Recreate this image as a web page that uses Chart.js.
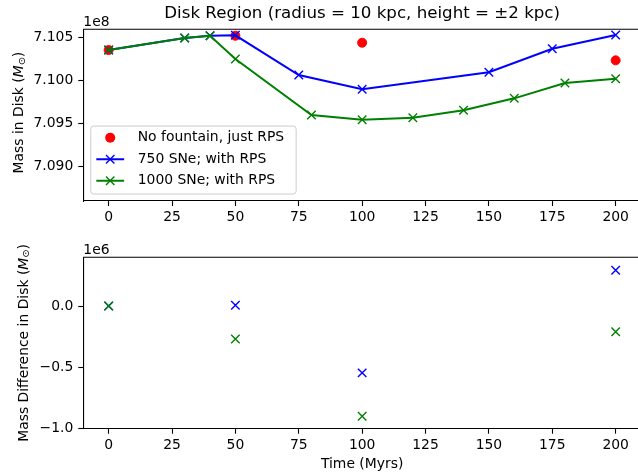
<!DOCTYPE html>
<html>
<head>
<meta charset="utf-8">
<script src="https://cdn.jsdelivr.net/npm/chart.js@4.4.0/dist/chart.umd.min.js"></script>
<style>
  html, body { margin: 0; padding: 0; background: #fff; width: 638px; height: 473px; overflow: hidden; }
  .box { position: absolute; left: 0; width: 642px; }
  #topBox { top: 0; height: 237px; }
  #bottomBox { top: 237px; height: 236px; }
  canvas { display: block; }
</style>
</head>
<body>
<div class="box" id="topBox"><canvas id="topChart" width="642" height="237" style="width:642px;height:237px"></canvas></div>
<div class="box" id="bottomBox"><canvas id="bottomChart" width="642" height="236" style="width:642px;height:236px"></canvas></div>
<script>
// --- Data (masses in units of 1e8, differences in units of 1e6) ---
const timeTicks = [0, 25, 50, 75, 100, 125, 150, 175, 200];
const massTicks = [7.090, 7.095, 7.100, 7.105];
const diffTicks = [-1.0, -0.5, 0.0];

const rpsTimes = [0, 50, 100, 200];
const rpsMass = [7.10357, 7.10523, 7.10442, 7.10237];

const sne750Times = [0, 30, 40, 50, 75, 100, 150, 175, 200];
const sne750Mass = [7.10357, 7.10496, 7.10523, 7.10528, 7.10066, 7.09900, 7.10098, 7.10372, 7.10531];

const sne1000Times = [0, 30, 40, 50, 80, 100, 120, 140, 160, 180, 200];
const sne1000Mass = [7.10357, 7.10496, 7.10523, 7.10252, 7.09601, 7.09547, 7.09570, 7.09656, 7.09795, 7.09973, 7.10023];

const diffTimes = [0, 50, 100, 200];
const diff750 = [0.0, 0.006, -0.545, 0.291];
const diff1000 = [0.0, -0.269, -0.899, -0.209];

const FONT = "'DejaVu Sans'";
const FS = 13.9;
const RED = '#ff0000', BLUE = '#0000ff', GREEN = '#008000';

Chart.defaults.animation = false;
Chart.defaults.font.family = FONT;

function pts(xs, ys) { return xs.map((x, i) => ({ x: x, y: ys[i] })); }

function fixTicks(values) {
    return scale => { scale.ticks = values.map(v => ({ value: v })); };
}

function axis(extra) {
    return Object.assign({
        type: 'linear',
        grid: { drawOnChartArea: false, drawTicks: true, tickLength: 5, tickWidth: 1.1, tickColor: '#000', color: '#000' },
        border: { display: true, color: '#000', width: 1.1 },
        ticks: { color: '#000', font: { family: FONT, size: FS }, maxRotation: 0, autoSkip: false }
    }, extra);
}

function buildScales(yMin, yMax, yTicks, yFmt, xHeight) {
    // fixed box sizes, and no label overhang padding, so the plot area sits where it should
    const x = axis({ min: -10, max: 210, afterBuildTicks: fixTicks(timeTicks),
        afterFit: s => { s.height = xHeight; s.paddingLeft = 0; s.paddingRight = 0; } });
    x.ticks.padding = 3.5;
    const y = axis({ min: yMin, max: yMax, afterBuildTicks: fixTicks(yTicks),
        afterFit: s => { s.width = 83.3; s.paddingTop = 0; s.paddingBottom = 0; } });
    y.ticks.padding = 5;
    y.ticks.callback = yFmt;
    return { x: x, y: y };
}

// --- Drawing helpers ---

function drawCross(ctx, x, y, r, color) {
    ctx.save();
    ctx.strokeStyle = color; ctx.lineWidth = 1.4;
    ctx.beginPath();
    ctx.moveTo(x - r, y - r); ctx.lineTo(x + r, y + r);
    ctx.moveTo(x - r, y + r); ctx.lineTo(x + r, y - r);
    ctx.stroke();
    ctx.restore();
}

function drawYLabel(ctx, cx, cy, mainText) {
    const parts = [
        { t: mainText + ' (', f: `${FS}px ${FONT}`, dy: 0 },
        { t: 'M', f: `italic ${FS}px ${FONT}`, dy: 0 },
        { t: '\u2299', f: `${FS * 0.7}px ${FONT}`, dy: 2.6 },
        { t: ')', f: `${FS}px ${FONT}`, dy: 0 }
    ];
    ctx.save();
    let total = 0;
    parts.forEach(p => { ctx.font = p.f; p.w = ctx.measureText(p.t).width; total += p.w; });
    ctx.translate(cx, cy);
    ctx.rotate(-Math.PI / 2);
    ctx.fillStyle = '#000';
    ctx.textBaseline = 'middle';
    ctx.textAlign = 'left';
    let x = -total / 2;
    parts.forEach(p => { ctx.font = p.f; ctx.fillText(p.t, x, p.dy); x += p.w; });
    ctx.restore();
}

function drawFrame(chart) {
    const ctx = chart.ctx, a = chart.chartArea;
    ctx.save();
    ctx.strokeStyle = '#000'; ctx.lineWidth = 1.1;
    ctx.beginPath();
    ctx.moveTo(a.left, a.top); ctx.lineTo(a.right, a.top); ctx.lineTo(a.right, a.bottom);
    ctx.stroke();
    ctx.restore();
}

function drawText(ctx, text, x, y, font, align, baseline) {
    ctx.save();
    ctx.font = font; ctx.fillStyle = '#000';
    ctx.textAlign = align; ctx.textBaseline = baseline;
    ctx.fillText(text, x, y);
    ctx.restore();
}

function drawLegend(chart) {
    const ctx = chart.ctx, a = chart.chartArea;
    const pad = 0.4 * FS, handle = 2 * FS, gap = 0.8 * FS, rowH = 21.5, h = 68;
    const items = chart.data.datasets;
    ctx.save();
    ctx.font = `${FS}px ${FONT}`;
    const textW = Math.max(...items.map(d => ctx.measureText(d.label).width));
    const w = pad * 2 + handle + gap + textW + 9;
    const x0 = a.left + 0.5 * FS + 0.5, y0 = a.bottom - 0.5 * FS - h;
    ctx.beginPath();
    ctx.roundRect(x0, y0, w, h, 3);
    ctx.fillStyle = 'rgba(255,255,255,0.8)';
    ctx.fill();
    ctx.strokeStyle = '#cccccc'; ctx.lineWidth = 1;
    ctx.stroke();
    items.forEach((d, i) => {
        const cy = y0 + 11.7 + i * rowH;
        const hx0 = x0 + pad, hx1 = hx0 + handle, mx = (hx0 + hx1) / 2;
        if (d.showLine === false) {
            ctx.beginPath();
            ctx.arc(mx, cy, d.pointRadius + 0.5, 0, Math.PI * 2);
            ctx.fillStyle = d.borderColor; ctx.fill();
        } else {
            ctx.beginPath();
            ctx.moveTo(hx0, cy); ctx.lineTo(hx1, cy);
            ctx.strokeStyle = d.borderColor; ctx.lineWidth = 2;
            ctx.stroke();
            drawCross(ctx, mx, cy, 4.2, d.borderColor);
        }
        ctx.fillStyle = '#000';
        ctx.textAlign = 'left'; ctx.textBaseline = 'middle';
        ctx.fillText(d.label, hx1 + gap + 2.5, cy);
    });
    ctx.restore();
}

// --- Top chart: disk mass ---

const topDecor = {
    id: 'topDecor',
    afterDraw(chart) {
        const ctx = chart.ctx, a = chart.chartArea;
        drawFrame(chart);
        drawText(ctx, 'Disk Region (radius = 10 kpc, height = \u00b12 kpc)', (a.left + a.right) / 2, 13.5, `16.67px ${FONT}`, 'center', 'middle');
        drawText(ctx, '1e8', a.left, 25.5, `${FS}px ${FONT}`, 'left', 'alphabetic');
        drawYLabel(ctx, 19.5, (a.top + a.bottom) / 2 - 2.5, 'Mass in Disk');
        drawLegend(chart);
    }
};

new Chart(document.getElementById('topChart'), {
    type: 'scatter',
    data: {
        datasets: [
            { label: 'No fountain, just RPS', data: pts(rpsTimes, rpsMass), showLine: false,
              pointStyle: 'circle', pointRadius: 4.5, pointBorderWidth: 1, borderColor: RED, backgroundColor: RED, order: 3 },
            { label: '750 SNe; with RPS', data: pts(sne750Times, sne750Mass), showLine: true, borderWidth: 2, tension: 0,
              pointStyle: 'crossRot', pointRadius: 6, pointBorderWidth: 1.4, borderColor: BLUE, backgroundColor: BLUE, order: 2 },
            { label: '1000 SNe; with RPS', data: pts(sne1000Times, sne1000Mass), showLine: true, borderWidth: 2, tension: 0,
              pointStyle: 'crossRot', pointRadius: 6, pointBorderWidth: 1.4, borderColor: GREEN, backgroundColor: GREEN, order: 1 }
        ]
    },
    options: {
        responsive: false,
        maintainAspectRatio: false,
        clip: false,
        layout: { autoPadding: false, padding: { top: 29.3, right: 1, left: 0, bottom: 0 } },
        plugins: { legend: { display: false }, tooltip: { enabled: false } },
        scales: buildScales(7.08601, 7.10598, massTicks, v => v.toFixed(3), 36)
    },
    plugins: [topDecor]
});

// --- Bottom chart: mass difference ---

const bottomDecor = {
    id: 'bottomDecor',
    afterDraw(chart) {
        const ctx = chart.ctx, a = chart.chartArea;
        drawFrame(chart);
        drawText(ctx, '1e6', a.left, 16.5, `${FS}px ${FONT}`, 'left', 'alphabetic');
        drawYLabel(ctx, 24, (a.top + a.bottom) / 2, 'Mass Difference in Disk');
        drawText(ctx, 'Time (Myrs)', (a.left + a.right) / 2, 227.5, `${FS}px ${FONT}`, 'center', 'middle');
    }
};

new Chart(document.getElementById('bottomChart'), {
    type: 'scatter',
    data: {
        datasets: [
            { label: '750 SNe', data: pts(diffTimes, diff750), showLine: false,
              pointStyle: 'crossRot', pointRadius: 6, pointBorderWidth: 1.4, borderColor: BLUE, backgroundColor: BLUE, order: 2 },
            { label: '1000 SNe', data: pts(diffTimes, diff1000), showLine: false,
              pointStyle: 'crossRot', pointRadius: 6, pointBorderWidth: 1.4, borderColor: GREEN, backgroundColor: GREEN, order: 1 }
        ]
    },
    options: {
        responsive: false,
        maintainAspectRatio: false,
        clip: false,
        layout: { autoPadding: false, padding: { top: 20.3, right: 1, left: 0, bottom: 0 } },
        plugins: { legend: { display: false }, tooltip: { enabled: false } },
        scales: buildScales(-1.0, 0.397, diffTicks, v => (v < 0 ? '\u2212' : '') + Math.abs(v).toFixed(1), 44.3)
    },
    plugins: [bottomDecor]
});
</script>
</body>
</html>
